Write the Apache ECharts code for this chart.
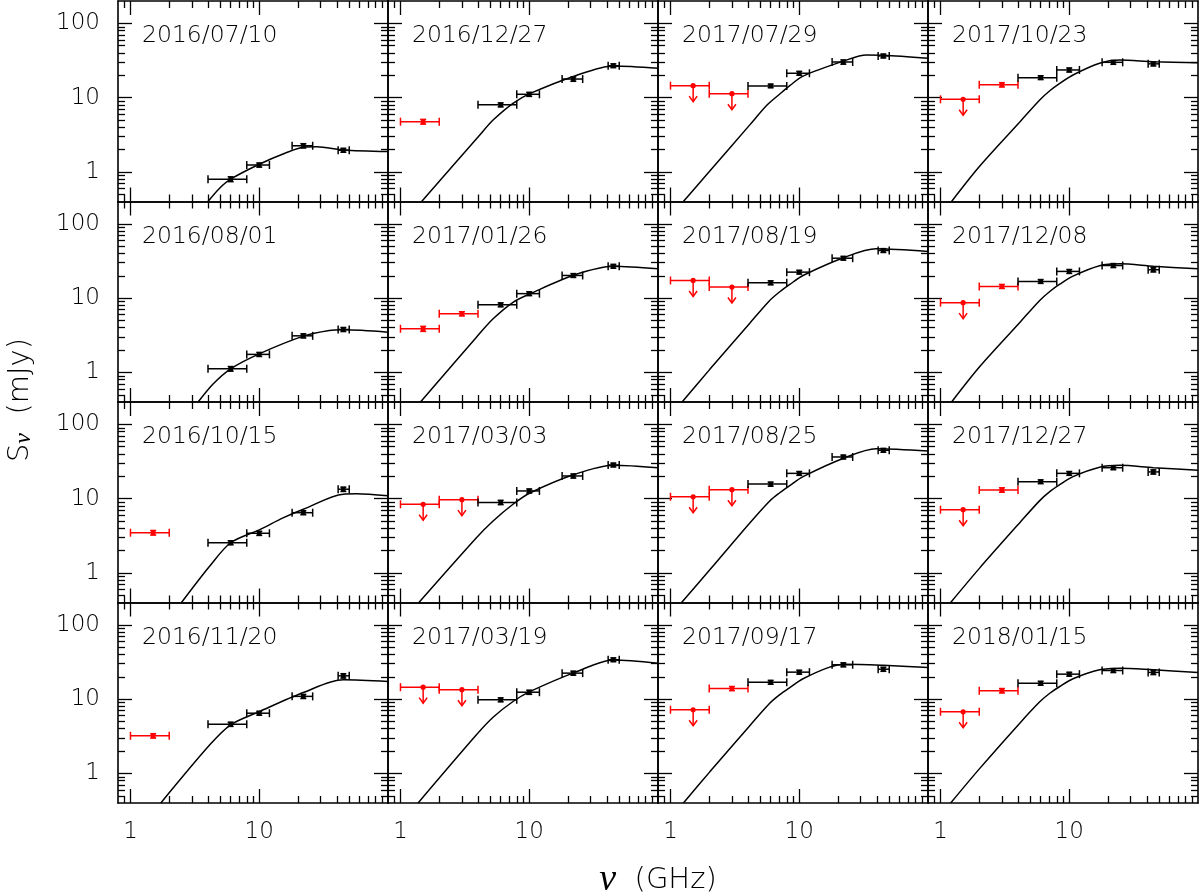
<!DOCTYPE html>
<html>
<head>
<meta charset="utf-8">
<title>radio light curves</title>
<script src="https://cdn.jsdelivr.net/npm/echarts@6/dist/echarts.min.js"></script>
<style>
  html, body { margin: 0; padding: 0; background: #fff; }
  #main { width: 1200px; height: 896px; }
</style>
</head>
<body>
<div id="main"></div>
<script>
// VLA bands: L, S, C, X, K, Q
var bandNu = [1.5, 3, 6, 10, 22, 45];
var bandLo = [1, 2, 4, 8, 18, 41];
var bandHi = [2, 4, 8, 12, 26, 50];

// panels in row order (4 x 4)
var dates = [
  "2016/07/10", "2016/12/27", "2017/07/29", "2017/10/23",
  "2016/08/01", "2017/01/26", "2017/08/19", "2017/12/08",
  "2016/10/15", "2017/03/03", "2017/08/25", "2017/12/27",
  "2016/11/20", "2017/03/19", "2017/09/17", "2018/01/15"
];

// flux density (mJy) per band, null = no point
var flux = [
  [null, null, 0.80, 1.24, 2.25, 1.96],
  [4.75, null, 8.0, 11.1, 17.8, 26.9],
  [14.5, 11.3, 14.4, 21.3, 30.2, 36.4],
  [9.5, 14.9, 18.6, 23.6, 29.9, 28.5],
  [null, null, 1.12, 1.75, 3.11, 3.79],
  [3.87, 6.16, 8.14, 11.5, 20.2, 26.9],
  [17.3, 14.1, 16.1, 22.4, 34.5, 43.8],
  [8.7, 14.4, 16.8, 22.9, 27.5, 24.1],
  [3.48, null, 2.55, 3.42, 6.47, 13.4],
  [8.4, 9.7, 8.9, 12.7, 20.2, 28.4],
  [10.6, 13.2, 15.7, 21.9, 36.4, 44.8],
  [7.1, 13.1, 16.9, 21.9, 26.1, 22.9],
  [3.21, null, 4.6, 6.47, 10.9, 20.6],
  [14.5, 13.4, 9.8, 12.4, 22.4, 33.9],
  [7.2, 13.9, 16.9, 23.1, 29.0, 25.3],
  [6.76, 13.0, 16.4, 21.7, 24.3, 22.9]
];

// 1 sigma errors (mJy)
var fluxErr = [
  [null, null, 0.06, 0.08, 0.15, 0.12],
  [0.35, null, 0.5, 0.7, 1.2, 1.6],
  [0, 0, 0.8, 1.3, 2.0, 2.2],
  [0, 1.0, 1.1, 1.5, 1.8, 1.8],
  [null, null, 0.08, 0.11, 0.2, 0.24],
  [0.3, 0.4, 0.5, 0.7, 1.2, 1.6],
  [0, 0, 1.0, 1.3, 2.0, 2.6],
  [0, 0.9, 1.0, 1.4, 1.7, 1.6],
  [0.25, null, 0.16, 0.22, 0.4, 0.9],
  [0, 0, 0.6, 0.8, 1.3, 1.7],
  [0, 0, 1.0, 1.3, 2.2, 2.7],
  [0, 0.9, 1.0, 1.3, 1.6, 1.5],
  [0.22, null, 0.3, 0.4, 0.7, 1.4],
  [0, 0, 0.6, 0.8, 1.4, 2.0],
  [0, 0.9, 1.0, 1.4, 1.8, 1.6],
  [0, 0.9, 1.0, 1.3, 1.5, 1.5]
];

// upper limits at L and S band
var upperL = [0, 0, 1, 1, 0, 0, 1, 1, 0, 1, 1, 1, 0, 1, 1, 1];
var upperS = [0, 0, 1, 0, 0, 0, 1, 0, 0, 1, 1, 0, 0, 1, 0, 0];

// model curves [GHz, mJy]
var curves = [
  [[4.0, 0.4], [4.9, 0.6], [6, 0.8], [10, 1.27], [16, 1.8], [22, 2.15], [28, 2.18], [45, 1.98], [100, 1.88]],
  [[1.46, 0.4], [4.13, 3.15], [5.24, 5.0], [7.48, 8.4], [10.2, 11.4], [22.6, 19.6], [45, 26.7], [100, 24.8]],
  [[1.26, 0.4], [2.02, 1.03], [4.13, 4.3], [5.6, 7.9], [7.06, 11.2], [8.44, 14.5], [10.7, 19.5], [22.6, 31.5], [33.2, 37.5], [45, 37.3], [100, 33.9]],
  [[1.22, 0.4], [2.02, 1.2], [4.13, 4.7], [5.9, 9.3], [7.06, 12.4], [8.44, 15.6], [10.7, 20.2], [17.2, 29.0], [24.6, 32.0], [45, 30.5], [100, 29.6]],
  [[3.35, 0.4], [4.38, 0.7], [6, 1.12], [10, 1.78], [22, 3.08], [35, 3.67], [45, 3.75], [100, 3.48]],
  [[1.43, 0.4], [3.89, 2.98], [5.24, 5.27], [7.48, 8.8], [10.2, 11.5], [22.6, 20.6], [45, 26.9], [100, 24.8]],
  [[1.23, 0.4], [2.02, 1.1], [4.13, 4.6], [5.9, 9.3], [7.06, 12.2], [8.44, 15.3], [10.7, 20.2], [22.6, 35.6], [39.6, 46.2], [100, 42.5]],
  [[1.22, 0.4], [2.02, 1.2], [4.13, 4.7], [5.9, 9.3], [7.06, 12.3], [8.44, 15.4], [10.7, 19.8], [17.2, 27.3], [24.6, 29.0], [45, 26.9], [100, 24.8]],
  [[2.49, 0.4], [4.13, 1.24], [6, 2.55], [10, 3.8], [15.3, 5.5], [22, 7.2], [45, 11.5], [57, 11.6], [100, 10.9]],
  [[1.39, 0.4], [3.89, 2.98], [5.24, 5.0], [7.48, 8.4], [10.2, 12.0], [22.6, 21.3], [45, 28.2], [100, 26.1]],
  [[1.22, 0.4], [2.02, 1.1], [4.13, 4.7], [5.9, 9.3], [7.06, 12.0], [8.44, 15.0], [10.7, 19.8], [22.6, 35.6], [39.6, 47.0], [100, 43.8]],
  [[1.2, 0.4], [2.02, 1.17], [4.13, 4.75], [5.9, 9.4], [7.06, 12.4], [8.44, 15.4], [10.7, 19.8], [17.2, 26.5], [24.6, 28.1], [45, 26.1], [100, 24.1]],
  [[1.72, 0.4], [4.13, 2.43], [6, 4.52], [10, 6.8], [22, 12.3], [45, 18.2], [100, 17.3]],
  [[1.37, 0.4], [3.89, 3.31], [5.24, 5.7], [7.48, 9.3], [10.2, 12.7], [22.6, 22.9], [45, 33.7], [100, 30.5]],
  [[1.26, 0.4], [2.02, 1.05], [4.13, 4.4], [5.9, 8.8], [7.06, 11.5], [8.44, 14.3], [10.7, 18.8], [17.2, 27.0], [22.6, 29.6], [45, 28.6], [100, 26.7]],
  [[1.2, 0.4], [2.02, 1.17], [4.13, 4.75], [5.9, 9.2], [7.06, 12.0], [8.44, 14.8], [10.7, 18.8], [17.2, 24.8], [24.6, 26.1], [45, 24.8], [100, 22.9]]
];

// ticks
var xMajor = [1, 10];
var xMinor = [0.9, 2, 3, 4, 5, 6, 7, 8, 9, 20, 30, 40, 50, 60, 70, 80, 90];
var yMajor = [1, 10, 100];
var yMinor = [0.5, 0.6, 0.7, 0.8, 0.9, 2, 3, 4, 5, 6, 7, 8, 9, 20, 30, 40, 50, 60, 70, 80, 90];
var xLabels = [1, 10];
var yLabels = [1, 10, 100];

var FONT = "DejaVu Sans";
var GREEK = "Liberation Serif";
var WEIGHT = 200;
var X0 = 118, Y0 = 1, W = 270, H = 200.5;

var myChart = echarts.init(document.getElementById("main"));

function makeAxis(dim, g, pos, major, labels) {
  var isX = dim === "x";
  return {
    type: "log",
    logBase: 10,
    gridIndex: g,
    position: pos,
    min: isX ? 0.8 : 0.4,
    max: isX ? 100 : 200,
    axisLine: { show: major, onZero: false, lineStyle: { color: "#000", width: 1.6 } },
    axisTick: {
      show: true,
      inside: true,
      length: major ? 14 : 7,
      customValues: major ? (isX ? xMajor : yMajor) : (isX ? xMinor : yMinor),
      lineStyle: { color: "#000", width: 1.3 }
    },
    axisLabel: {
      show: labels,
      customValues: isX ? xLabels : yLabels,
      margin: 18,
      color: "#000",
      fontFamily: FONT,
      fontWeight: WEIGHT,
      fontSize: 23,
      formatter: function (v) { return String(Math.round(v)); }
    },
    splitLine: { show: false },
    minorTick: { show: false }
  };
}

// error bar / upper limit glyph
function renderPoint(params, api) {
  var nu = api.value(0), f = api.value(1);
  var p = api.coord([nu, f]);
  var lo = api.coord([api.value(2), f]);
  var hi = api.coord([api.value(3), f]);
  var col = api.value(6) ? "#ff0000" : "#000000";
  var st = { stroke: col, lineWidth: 1.5, fill: null };
  var kids = [
    { type: "line", shape: { x1: lo[0], y1: p[1], x2: hi[0], y2: p[1] }, style: st },
    { type: "line", shape: { x1: lo[0], y1: p[1] - 4, x2: lo[0], y2: p[1] + 4 }, style: st },
    { type: "line", shape: { x1: hi[0], y1: p[1] - 4, x2: hi[0], y2: p[1] + 4 }, style: st }
  ];
  if (api.value(5)) {
    kids.push({ type: "line", shape: { x1: p[0], y1: p[1], x2: p[0], y2: p[1] + 16 }, style: st });
    kids.push({ type: "polyline", shape: { points: [[p[0] - 4, p[1] + 10.5], [p[0], p[1] + 16], [p[0] + 4, p[1] + 10.5]] }, style: st });
    kids.push({ type: "circle", shape: { cx: p[0], cy: p[1], r: 2.6 }, style: { fill: col } });
  } else {
    var e = api.value(4);
    var t = api.coord([nu, f + e]), b = api.coord([nu, f - e]);
    kids.push({ type: "line", shape: { x1: p[0], y1: t[1], x2: p[0], y2: b[1] }, style: st });
    kids.push({ type: "line", shape: { x1: p[0] - 3, y1: t[1], x2: p[0] + 3, y2: t[1] }, style: st });
    kids.push({ type: "line", shape: { x1: p[0] - 3, y1: b[1], x2: p[0] + 3, y2: b[1] }, style: st });
    kids.push({ type: "rect", shape: { x: p[0] - 2.3, y: p[1] - 2.3, width: 4.6, height: 4.6 }, style: { fill: col } });
  }
  return { type: "group", children: kids };
}

var grids = [], xAxes = [], yAxes = [], series = [], texts = [];

for (var i = 0; i < 16; i++) {
  var r = Math.floor(i / 4), c = i % 4;
  grids.push({ left: X0 + W * c, top: Y0 + H * r, width: W, height: H });

  xAxes.push(makeAxis("x", i, "bottom", true, r === 3));
  xAxes.push(makeAxis("x", i, "bottom", false, false));
  xAxes.push(makeAxis("x", i, "top", true, false));
  xAxes.push(makeAxis("x", i, "top", false, false));
  yAxes.push(makeAxis("y", i, "left", true, c === 0));
  yAxes.push(makeAxis("y", i, "left", false, false));
  yAxes.push(makeAxis("y", i, "right", true, false));
  yAxes.push(makeAxis("y", i, "right", false, false));

  series.push({
    type: "line",
    xAxisIndex: 4 * i,
    yAxisIndex: 4 * i,
    data: curves[i],
    smooth: 0.3,
    symbol: "none",
    clip: true,
    silent: true,
    lineStyle: { color: "#000", width: 1.5 }
  });

  var pts = [];
  for (var b = 0; b < 6; b++) {
    if (flux[i][b] == null) continue;
    var lim = (b === 0 && upperL[i]) || (b === 1 && upperS[i]) ? 1 : 0;
    pts.push([bandNu[b], flux[i][b], bandLo[b], bandHi[b], fluxErr[i][b], lim, b < 2 ? 1 : 0]);
  }
  series.push({
    type: "custom",
    xAxisIndex: 4 * i,
    yAxisIndex: 4 * i,
    renderItem: renderPoint,
    encode: { x: 0, y: 1 },
    data: pts,
    silent: true,
    z: 3
  });

  texts.push({
    type: "text",
    x: X0 + W * c + 24,
    y: Y0 + H * r + 35,
    style: { text: dates[i], fontFamily: FONT, fontWeight: WEIGHT, fontSize: 23.5, fill: "#000", align: "left", verticalAlign: "middle" }
  });
}

// axis titles
texts.push({
  type: "text",
  x: 20,
  y: 400,
  rotation: Math.PI / 2,
  style: {
    text: "{s|S}{n|ν}{s|  (mJy)}",
    align: "center",
    verticalAlign: "middle",
    rich: {
      s: { fontFamily: FONT, fontWeight: WEIGHT, fontSize: 29, lineHeight: 31, fill: "#000" },
      n: { fontFamily: GREEK, fontSize: 24, fontStyle: "italic", lineHeight: 21, verticalAlign: "bottom", fill: "#000" }
    }
  }
});
texts.push({
  type: "text",
  x: 658,
  y: 880,
  style: {
    text: "{n|ν}{s|  (GHz)}",
    align: "center",
    verticalAlign: "middle",
    rich: {
      s: { fontFamily: FONT, fontWeight: WEIGHT, fontSize: 29, fill: "#000" },
      n: { fontFamily: GREEK, fontSize: 38, fontStyle: "italic", fill: "#000" }
    }
  }
});

var option = {
  backgroundColor: "#fff",
  animation: false,
  grid: grids,
  xAxis: xAxes,
  yAxis: yAxes,
  series: series,
  graphic: texts
};

myChart.setOption(option);
</script>
</body>
</html>
